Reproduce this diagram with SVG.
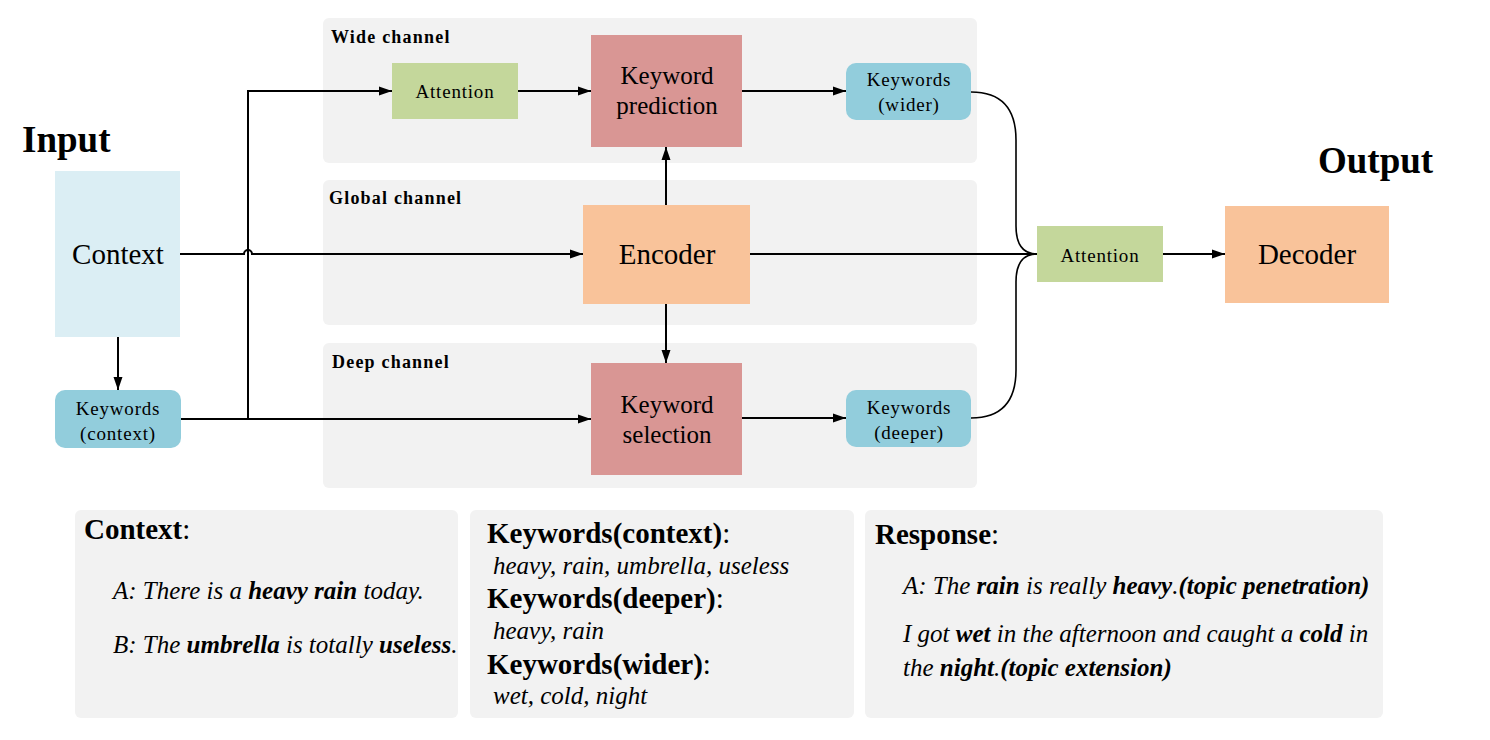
<svg xmlns="http://www.w3.org/2000/svg" width="1490" height="740" viewBox="0 0 1490 740">
<defs>
<marker id="arr" markerUnits="userSpaceOnUse" markerWidth="13" markerHeight="10" refX="13" refY="5" orient="auto">
<path d="M0,0.5 L13,5 L0,9.5 z" fill="#000"/>
</marker>
<style>
text{font-family:"Liberation Serif","Times New Roman",serif;fill:#000}
.panel{fill:#f2f2f2}
.lbl{font-weight:bold;font-size:18px;letter-spacing:1.2px}
.big{font-weight:bold;font-size:37px}
.n17{font-size:19px;letter-spacing:0.8px;text-anchor:middle}
.n25{font-size:25px;text-anchor:middle}
.n29{font-size:29px;text-anchor:middle}
.conn{fill:none;stroke:#000;stroke-width:2}
.thin{fill:none;stroke:#000;stroke-width:1.6}
.hd{font-weight:bold;font-size:29px}
.it{font-style:italic;font-size:25px}
.b{font-weight:bold}
</style>
</defs>
<rect width="1490" height="740" fill="#fff"/>

<g id="panels">
<rect class="panel" x="323" y="18" width="654" height="145" rx="6"/>
<rect class="panel" x="323" y="180" width="654" height="145" rx="6"/>
<rect class="panel" x="323" y="343" width="654" height="145" rx="6"/>
<text class="lbl" x="331" y="43">Wide channel</text>
<text class="lbl" x="329" y="204">Global channel</text>
<text class="lbl" x="332" y="368">Deep channel</text>
<text class="big" x="22" y="152">Input</text>
<text class="big" x="1318" y="173">Output</text>
</g>

<g id="connectors">
<path class="conn" d="M180,254 H244 A4,4 0 0 1 252,254 H583" marker-end="url(#arr)"/>
<path class="conn" d="M181,419 H591" marker-end="url(#arr)"/>
<path class="conn" d="M248,419 V91 H392" marker-end="url(#arr)"/>
<path class="conn" d="M118,337 V390" marker-end="url(#arr)"/>
<path class="conn" d="M518,91 H591" marker-end="url(#arr)"/>
<path class="conn" d="M742,91 H846" marker-end="url(#arr)"/>
<path class="conn" d="M666,205 V147" marker-end="url(#arr)"/>
<path class="conn" d="M666,304 V363" marker-end="url(#arr)"/>
<path class="conn" d="M742,418 H846" marker-end="url(#arr)"/>
<path class="conn" d="M750,254 H1037"/>
<path class="thin" d="M971,92 C1005,92 1016,112 1016,140 L1016,226 C1016,246 1024,254 1037,254"/>
<path class="thin" d="M971,418 C1005,418 1016,398 1016,370 L1016,282 C1016,262 1024,254 1037,254"/>
<path class="conn" d="M1163,254 H1225" marker-end="url(#arr)"/>
</g>

<g id="context">
<rect x="55" y="171" width="125" height="166" fill="#dbeef4"/>
<text class="n29" x="118" y="264">Context</text>
</g>
<g id="kw-context">
<rect x="55" y="390" width="126" height="58" rx="10" fill="#92cddc"/>
<text class="n17" x="118" y="415">Keywords</text>
<text class="n17" x="118" y="440">(context)</text>
</g>
<g id="attention-wide">
<rect x="392" y="63" width="126" height="56" fill="#c4d79b"/>
<text class="n17" x="455" y="98">Attention</text>
</g>
<g id="kw-prediction">
<rect x="591" y="35" width="151" height="112" fill="#d99694"/>
<text class="n25" x="667" y="84">Keyword</text>
<text class="n25" x="667" y="114">prediction</text>
</g>
<g id="kw-wider">
<rect x="846" y="63" width="125" height="57" rx="10" fill="#92cddc"/>
<text class="n17" x="909" y="86">Keywords</text>
<text class="n17" x="909" y="111">(wider)</text>
</g>
<g id="encoder">
<rect x="583" y="205" width="167" height="99" fill="#f9c39a"/>
<text class="n29" x="667" y="264">Encoder</text>
</g>
<g id="kw-selection">
<rect x="591" y="363" width="151" height="112" fill="#d99694"/>
<text class="n25" x="667" y="413">Keyword</text>
<text class="n25" x="667" y="443">selection</text>
</g>
<g id="kw-deeper">
<rect x="846" y="390" width="125" height="57" rx="10" fill="#92cddc"/>
<text class="n17" x="909" y="414">Keywords</text>
<text class="n17" x="909" y="439">(deeper)</text>
</g>
<g id="attention-out">
<rect x="1037" y="226" width="126" height="56" fill="#c4d79b"/>
<text class="n17" x="1100" y="262">Attention</text>
</g>
<g id="decoder">
<rect x="1225" y="206" width="164" height="97" fill="#f9c39a"/>
<text class="n29" x="1307" y="264">Decoder</text>
</g>

<g id="box-context">
<rect class="panel" x="75" y="510" width="383" height="208" rx="6"/>
<text class="hd" x="84" y="539">Context<tspan font-weight="normal">:</tspan></text>
<text class="it" x="113" y="599">A: There is a <tspan class="b">heavy rain</tspan> today.</text>
<text class="it" x="113" y="653">B: The <tspan class="b">umbrella</tspan> is totally <tspan class="b">useless</tspan>.</text>
</g>
<g id="box-keywords">
<rect class="panel" x="470" y="510" width="384" height="208" rx="6"/>
<text class="hd" x="487" y="543">Keywords(context)<tspan font-weight="normal">:</tspan></text>
<text class="it" x="493" y="574">heavy, rain, umbrella, useless</text>
<text class="hd" x="487" y="608">Keywords(deeper)<tspan font-weight="normal">:</tspan></text>
<text class="it" x="493" y="639">heavy, rain</text>
<text class="hd" x="487" y="674">Keywords(wider)<tspan font-weight="normal">:</tspan></text>
<text class="it" x="493" y="704">wet, cold, night</text>
</g>
<g id="box-response">
<rect class="panel" x="865" y="510" width="518" height="208" rx="6"/>
<text class="hd" x="875" y="544">Response<tspan font-weight="normal">:</tspan></text>
<text class="it" x="903" y="594">A: The <tspan class="b">rain</tspan> is really <tspan class="b">heavy</tspan>.<tspan class="b">(topic penetration)</tspan></text>
<text class="it" x="903" y="642">I got <tspan class="b">wet</tspan> in the afternoon and caught a <tspan class="b">cold</tspan> in</text>
<text class="it" x="903" y="676">the <tspan class="b">night</tspan>.<tspan class="b">(topic extension)</tspan></text>
</g>
</svg>
